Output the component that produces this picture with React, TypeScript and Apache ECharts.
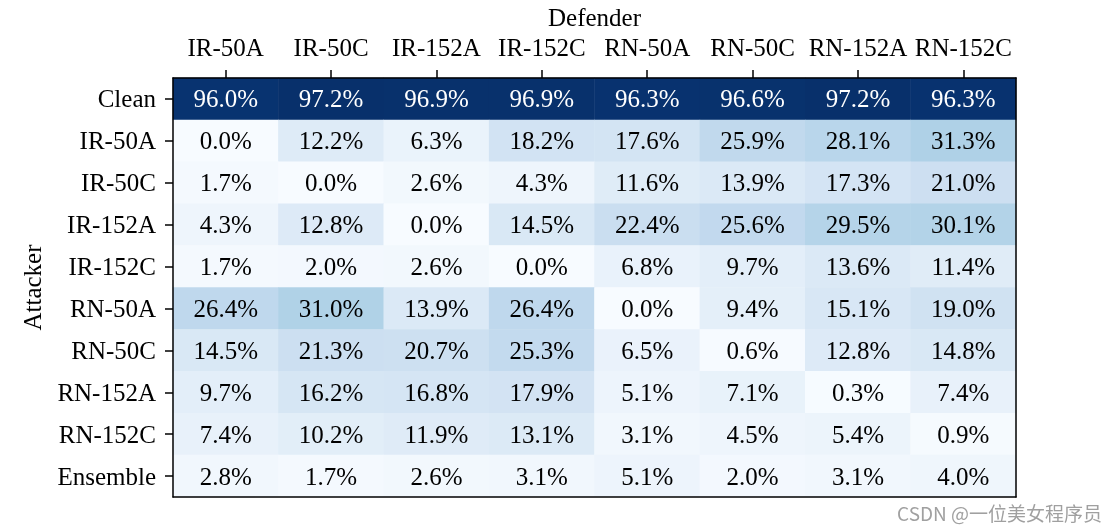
import React, { useEffect, useRef } from "react";
import * as echarts from "echarts";

const defenders = ["IR-50A", "IR-50C", "IR-152A", "IR-152C", "RN-50A", "RN-50C", "RN-152A", "RN-152C"];
const attackers = ["Clean", "IR-50A", "IR-50C", "IR-152A", "IR-152C", "RN-50A", "RN-50C", "RN-152A", "RN-152C", "Ensemble"];

const rowClean = [96.0, 97.2, 96.9, 96.9, 96.3, 96.6, 97.2, 96.3];
const rowIR50A = [0.0, 12.2, 6.3, 18.2, 17.6, 25.9, 28.1, 31.3];
const rowIR50C = [1.7, 0.0, 2.6, 4.3, 11.6, 13.9, 17.3, 21.0];
const rowIR152A = [4.3, 12.8, 0.0, 14.5, 22.4, 25.6, 29.5, 30.1];
const rowIR152C = [1.7, 2.0, 2.6, 0.0, 6.8, 9.7, 13.6, 11.4];
const rowRN50A = [26.4, 31.0, 13.9, 26.4, 0.0, 9.4, 15.1, 19.0];
const rowRN50C = [14.5, 21.3, 20.7, 25.3, 6.5, 0.6, 12.8, 14.8];
const rowRN152A = [9.7, 16.2, 16.8, 17.9, 5.1, 7.1, 0.3, 7.4];
const rowRN152C = [7.4, 10.2, 11.9, 13.1, 3.1, 4.5, 5.4, 0.9];
const rowEnsemble = [2.8, 1.7, 2.6, 3.1, 5.1, 2.0, 3.1, 4.0];

const rows = [rowClean, rowIR50A, rowIR50C, rowIR152A, rowIR152C, rowRN50A, rowRN50C, rowRN152A, rowRN152C, rowEnsemble];

const blues = ["#f7fbff", "#deebf7", "#c6dbef", "#9ecae1", "#6baed6", "#4292c6", "#2171b5", "#08519c", "#08306b"];
const FONT = "'Liberation Serif', 'Times New Roman', serif";
const FS = 25;

export default function App() {
  const ref = useRef<HTMLDivElement>(null);
  useEffect(() => {
    if (!ref.current) return;
    const chart = echarts.init(ref.current, null, { renderer: "svg" });
    const vmax = Math.max(...rows.flat());
    const data: any[] = [];
    rows.forEach((r, yi) => {
      r.forEach((v, xi) => {
        data.push({
          value: [xi, yi, v],
          label: { color: v / vmax > 0.6 ? "#ffffff" : "#000000" },
        });
      });
    });
    chart.setOption({
      animation: false,
      textStyle: { fontFamily: FONT },
      grid: { left: 173, top: 78, width: 843, height: 419, containLabel: false, outerBoundsMode: "none" },
      xAxis: [
        {
          type: "category",
          data: defenders,
          position: "top",
          z: 10,
          name: "Defender",
          nameLocation: "middle",
          nameGap: 47,
          nameTextStyle: { fontFamily: FONT, fontSize: FS, color: "#000" },
          axisLine: { show: true, lineStyle: { color: "#000", width: 1.5 } },
          axisTick: { show: true, alignWithLabel: true, length: 8, lineStyle: { color: "#000", width: 1.5 } },
          axisLabel: { fontFamily: FONT, fontSize: FS, color: "#000", margin: 18, interval: 0 },
          splitLine: { show: false },
          splitArea: { show: false },
        },
        {
          type: "category",
          data: defenders,
          position: "bottom",
          z: 10,
          axisLine: { show: true, lineStyle: { color: "#000", width: 1.5 } },
          axisTick: { show: false },
          axisLabel: { show: false },
        },
      ],
      yAxis: [
        {
          type: "category",
          data: attackers,
          inverse: true,
          z: 10,
          name: "Attacker",
          nameLocation: "middle",
          nameGap: 128,
          nameRotate: 90,
          nameTextStyle: { fontFamily: FONT, fontSize: FS, color: "#000" },
          axisLine: { show: true, lineStyle: { color: "#000", width: 1.5 } },
          axisTick: { show: true, alignWithLabel: true, length: 8, lineStyle: { color: "#000", width: 1.5 } },
          axisLabel: { fontFamily: FONT, fontSize: FS, color: "#000", margin: 17, interval: 0 },
          splitLine: { show: false },
          splitArea: { show: false },
        },
        {
          type: "category",
          data: attackers,
          inverse: true,
          position: "right",
          z: 10,
          axisLine: { show: true, lineStyle: { color: "#000", width: 1.5 } },
          axisTick: { show: false },
          axisLabel: { show: false },
        },
      ],
      visualMap: {
        show: false,
        min: 0,
        max: vmax,
        dimension: 2,
        inRange: { color: blues },
      },
      series: [
        {
          type: "heatmap",
          xAxisIndex: 0,
          yAxisIndex: 0,
          data,
          label: {
            show: true,
            fontFamily: FONT,
            fontSize: FS,
            formatter: (p: any) => p.value[2].toFixed(1) + "%",
          },
          itemStyle: { borderWidth: 0 },
          emphasis: { disabled: true },
        },
      ],
      graphic: [
        {
          type: "text",
          right: 16,
          top: 503,
          style: {
            text: "CSDN @一位美女程序员",
            fill: "#a0a0a0",
            font: "19px 'Noto Sans CJK SC', sans-serif",
          },
        },
      ],
    });
    return () => chart.dispose();
  }, []);
  return <div ref={ref} style={{ position: "fixed", left: 0, top: 0, width: 1118, height: 532 }} />;
}
